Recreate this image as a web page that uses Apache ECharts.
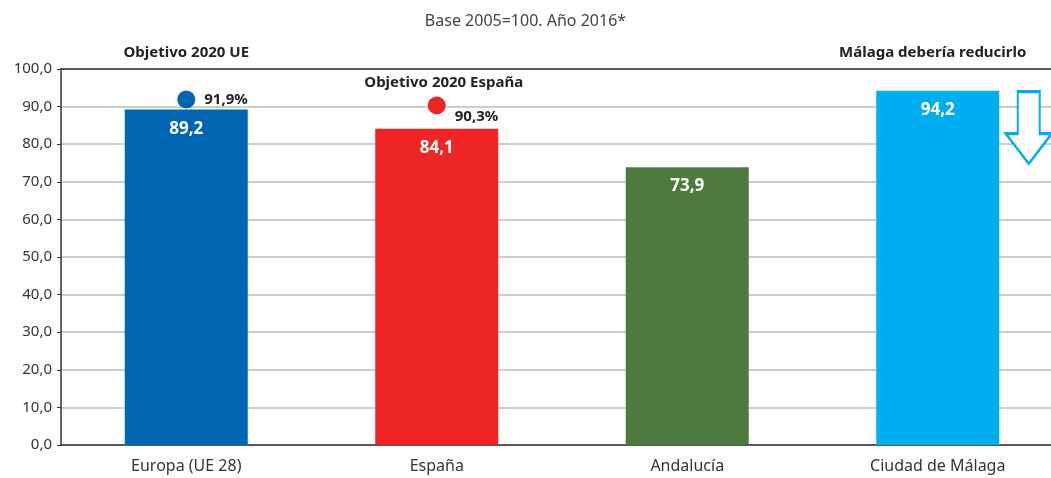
<!DOCTYPE html>
<html>
<head>
<meta charset="utf-8">
<script src="https://cdn.jsdelivr.net/npm/echarts@6/dist/echarts.min.js"></script>
<style>
html,body{margin:0;padding:0;background:#fff;}
#pic1{width:1051px;height:478px;}
</style>
</head>
<body>
<div id="pic1"></div>
<script>
// datos del gráfico
var categorias = ['Europa (UE 28)', 'España', 'Andalucía', 'Ciudad de Málaga'];
var valores = [89.2, 84.1, 73.9, 94.2];
var colores = ['#0066b3', '#ee2524', '#4f7a3e', '#00adef'];
var objetivos = [['Europa (UE 28)', 91.9], ['España', 90.3]];
var notas = [
    ['Europa (UE 28)', 104.3, 'Objetivo 2020 UE'],
    ['España', 96.3, 'Objetivo 2020 España'],
    ['Ciudad de Málaga', 104.3, 'Málaga debería reducirlo']
];
var flecha = [['Ciudad de Málaga', 84.4]];

function coma(v) { return v.toFixed(1).replace('.', ','); }

var myChart = echarts.init(document.getElementById('pic1'));

option = {
    textStyle: {fontFamily: 'Noto Sans'},
    title: {
        text: 'Base 2005=100. Año 2016*',
        left: 'center',
        top: 8,
        textStyle: {fontSize: 16, fontWeight: 'normal', color: '#444', fontFamily: 'Noto Sans'}
    },
    grid: {left: 61, top: 69, width: 1002, bottom: 33, outerBoundsMode: 'none', containLabel: false},
    xAxis: [{
        type: 'category',
        data: categorias,
        axisLine: {lineStyle: {color: '#333', width: 1.5}},
        axisTick: {show: false},
        axisLabel: {fontSize: 16, color: '#333', margin: 13}
    }, {
        type: 'category',
        position: 'top',
        data: categorias,
        axisLine: {lineStyle: {color: '#333', width: 1.5}},
        axisTick: {show: false},
        axisLabel: {show: false}
    }],
    yAxis: {
        type: 'value',
        min: 0,
        max: 100,
        interval: 10,
        axisLine: {show: true, lineStyle: {color: '#333', width: 1.5}},
        axisTick: {show: true, length: 4, lineStyle: {color: '#333'}},
        axisLabel: {fontSize: 15, color: '#333', margin: 9, formatter: function (v) { return coma(v); }},
        splitLine: {lineStyle: {color: '#bbb', width: 1.5}}
    },
    series: [{
        type: 'bar',
        barWidth: 123,
        data: valores.map(function (v, i) {
            return {value: v, itemStyle: {color: colores[i]}};
        }),
        label: {
            show: true,
            position: 'insideTop',
            distance: 11,
            color: '#fff',
            fontSize: 17,
            fontWeight: 'bold',
            formatter: function (p) { return coma(p.value); }
        }
    }, {
        type: 'scatter',
        symbolSize: 18,
        z: 5,
        data: [
            {value: objetivos[0], itemStyle: {color: colores[0], opacity: 1},
             label: {position: 'right', distance: 9}},
            {value: objetivos[1], itemStyle: {color: colores[1], opacity: 1},
             label: {position: 'right', distance: 9, offset: [0, 11]}}
        ],
        label: {
            show: true,
            color: '#222',
            fontSize: 15,
            fontWeight: 'bold',
            formatter: function (p) { return coma(p.value[1]) + '%'; }
        }
    }, {
        type: 'scatter',
        symbolSize: 0,
        clip: false,
        silent: true,
        itemStyle: {opacity: 1},
        data: notas.map(function (n, i) {
            var dx = [0, 7, -5][i];
            return {value: [n[0], n[1]], name: n[2], label: {offset: [dx, 0]}};
        }),
        label: {
            show: true,
            position: 'inside',
            color: '#222',
            fontSize: 15,
            fontWeight: 'bold',
            formatter: function (p) { return p.name; }
        }
    }, {
        type: 'scatter',
        silent: true,
        data: flecha,
        symbol: 'path://M12 0 L34 0 L34 42 L46 42 L23 72 L0 42 L12 42 Z',
        symbolSize: [46, 72],
        symbolOffset: [91, 0],
        symbolKeepAspect: false,
        itemStyle: {color: '#fff', borderColor: '#00adef', borderWidth: 2.5, opacity: 1}
    }]
};

myChart.setOption(option);
</script>
</body>
</html>
